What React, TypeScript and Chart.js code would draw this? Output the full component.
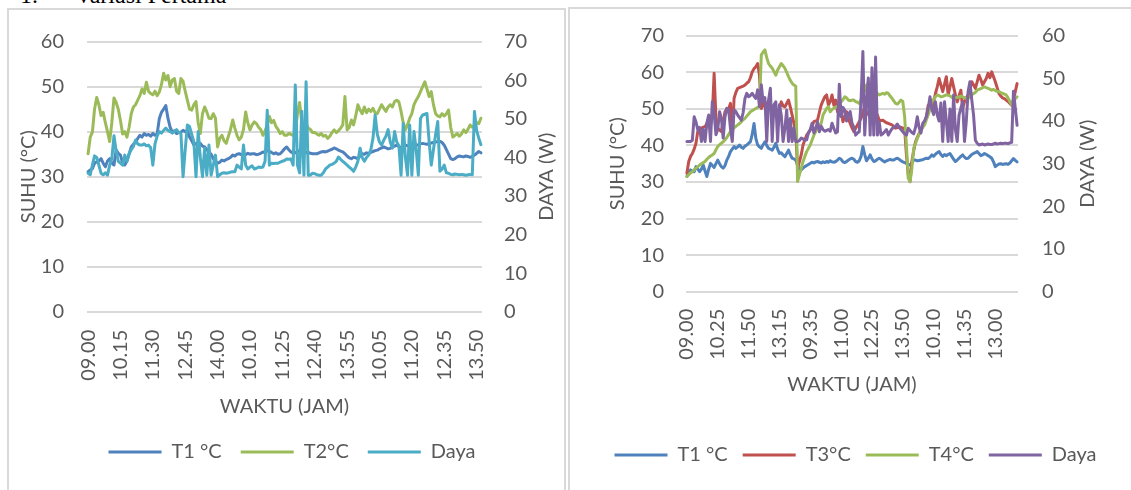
import React, { useEffect, useRef } from 'react';
import { Chart, registerables } from 'chart.js';

Chart.register(...registerables);

const FONT = 'Lato, "Noto Sans", sans-serif';
const TEXT = '#595959';
const GRID = '#d9d9d9';
const FS = 20;

// one measuring day, every 5 minutes
const DAY_TIMES = [
  '09.00', '09.05', '09.10', '09.15', '09.20', '09.25', '09.30', '09.35', '09.40', '09.45', '09.50', '09.55',
  '10.00', '10.05', '10.10', '10.15', '10.20', '10.25', '10.30', '10.35', '10.40', '10.45', '10.50', '10.55',
  '11.00', '11.05', '11.10', '11.15', '11.20', '11.25', '11.30', '11.35', '11.40', '11.45', '11.50', '11.55',
  '12.00', '12.05', '12.10', '12.15', '12.20', '12.25', '12.30', '12.35', '12.40', '12.45', '12.50', '12.55',
  '13.00', '13.05', '13.10', '13.15', '13.20', '13.25', '13.30', '13.35', '13.40', '13.45', '13.50', '13.55',
  '14.00',
];
const CATEGORIES = [...DAY_TIMES, ...DAY_TIMES, ...DAY_TIMES];

const LEFT_TICK_LABELS = ['09.00', '10.15', '11.30', '12.45', '14.00', '10.10', '11.25', '12.40', '13.55', '10.05', '11.20', '12.35', '13.50'];
const LEFT_TICK_STEP = 15;
const RIGHT_TICK_LABELS = ['09.00', '10.25', '11.50', '13.15', '09.35', '11.00', '12.25', '13.50', '10.10', '11.35', '13.00'];
const RIGHT_TICK_STEP = 17;

// ---------- left chart (Variasi Pertama) ----------
const L_T1 = [
  31.1, 31.5, 31.8, 33, 33.3, 33.5, 34, 33, 32.2, 33.5,
  34, 33, 32.6, 35.9, 35.2, 34.8, 33, 32.6, 33.5, 35,
  36.6, 37.2, 37.7, 38.5, 39.2, 38.8, 39.6, 39.2, 39.4, 39,
  39.6, 39.2, 39.5, 42.9, 44.3, 45, 45.8, 43, 41, 39.9,
  40.2, 39.6, 39.8, 39.9, 40.3, 40, 40.3, 38.8, 38, 37,
  37.4, 37.2, 37.4, 36.8, 36.6, 36, 35.5, 35, 34, 33.5,
  33, 33.2, 33.7, 33.5, 33.8, 34, 34.3, 34.8, 34.6, 35,
  35.1, 34.9, 35, 34.9, 35.2, 35, 35.1, 35.1, 34.9, 35,
  35.2, 35.5, 35.3, 35.9, 35.6, 35.4, 35.1, 35.3, 35, 35.1,
  35.6, 36.2, 36.6, 36, 35.5, 35.2, 35.3, 35.6, 35.8, 35.5,
  35.3, 35.4, 35.4, 35.2, 35.1, 35.1, 35.1, 35.3, 35.5, 35.6,
  35.5, 35.7, 35.9, 36.1, 36.4, 36.2, 35.9, 35.7, 35.5, 35.1,
  34.6, 34.2, 34, 34.3, 34.2, 34, 34.6, 35.1, 35, 35.3,
  35.2, 35.4, 35.6, 35.8, 35.9, 36.2, 36.4, 36.6, 36.4, 36.2,
  36.3, 36.6, 36.8, 37, 36.7, 36.4, 36.8, 37, 36.9, 36.7,
  36.6, 36.8, 37, 37.1, 37.3, 37.4, 37.3, 37.2, 37.4, 37.5,
  37.6, 37.7, 37.8, 37.9, 37.6, 37, 36, 35, 34, 33.8,
  34, 34.4, 34.6, 34.5, 34.4, 34.6, 34.5, 34.3, 34.5, 34.8,
  35.2, 35.6, 35.3,
];
const L_T2 = [
  35.1, 38.8, 39.9, 45, 47.6, 46, 43.6, 44.3, 42, 40,
  37.8, 42, 47.5, 46.5, 45, 42.5, 39.5, 40, 38.8, 41,
  44, 45.5, 46, 47, 48, 49.5, 48.5, 51, 49, 48.5,
  48.2, 49, 48, 48.8, 50.5, 53, 51.5, 52.5, 50, 51.5,
  51.8, 49, 48.5, 51.8, 51.2, 49, 47, 45, 44.8, 46,
  46.7, 42, 39.6, 44, 45.5, 44.4, 43, 42.9, 44, 43,
  36.6, 38.5, 39.2, 38, 37.4, 39, 40.5, 42.6, 40.8, 39.2,
  38.2, 38.8, 40.5, 44.4, 42, 40.4, 41.5, 42.2, 41.8, 41,
  40.5, 39.2, 40.2, 41.5, 43.4, 42, 42.5, 41.2, 40.5, 39.6,
  40, 39.2, 39.2, 39.6, 39.4, 39.2, 39.5, 44, 46.5, 42,
  41, 41.8, 40.8, 40.5, 39.8, 39.8, 39.5, 39.2, 39.6, 39,
  39.2, 38.5, 39, 39.8, 40.4, 39.8, 40.2, 40.8, 41.5, 47.8,
  40.4, 41, 42.6, 41.5, 43.5, 46, 44.8, 44, 45.5, 44.2,
  45, 44.5, 45.2, 44.2, 44, 45, 46, 45.2, 44.5, 45.5,
  46, 45.5, 46.7, 47, 46.6, 44.5, 42, 40.4, 41.5, 43,
  44, 46, 47, 47.8, 48.9, 50, 51.1, 49.5, 47.8, 48.9,
  46, 44, 43.5, 43.3, 44, 43.5, 44, 44.8, 41, 38.8,
  39.2, 39.6, 39, 39.5, 40.4, 39.8, 40.5, 41.5, 41, 41.5,
  42, 41.8, 43,
];
const L_DAYA = [
  35.9, 35.5, 38, 40.4, 40, 38, 35.9, 35.5, 36, 35.4,
  38, 39.7, 45.6, 41.7, 39, 38.5, 38, 40.6, 39, 41,
  42, 42.8, 44.5, 43.5, 43.2, 43.2, 43.5, 43, 43.2, 42.5,
  38, 43.5, 45.5, 46.7, 46.3, 47, 47.6, 47, 46.7, 46.3,
  46.8, 47.2, 46.5, 46.3, 35, 42, 48.4, 48, 46, 44.1,
  35, 46.7, 40, 35, 42.4, 35.4, 43.2, 35.4, 38, 40.6,
  35, 35.5, 35.9, 36, 35.9, 36, 36.2, 36.3, 36.3, 38,
  37.5, 37, 43.2, 38, 37, 37.5, 37.8, 37, 37.2, 37.5,
  37.4, 37.5, 39, 52.2, 38, 38.5, 38.4, 38.5, 38.5, 38.8,
  39, 39.2, 39.6, 39.5, 39.6, 38, 58.8, 38, 36, 52,
  35.4, 59.6, 35.4, 35.4, 35.9, 35.8, 35.5, 35.4, 35.4, 36,
  37, 37.5, 38, 38.2, 38.5, 39, 40.1, 39.5, 39, 38.5,
  38, 37.5, 37, 36.4, 37.5, 39, 42.4, 40, 39, 40,
  40.6, 42, 45, 51, 46, 44, 43.2, 44.5, 45.5, 47.2,
  44, 42.4, 46.7, 44, 43, 35.4, 48.8, 40, 35.4, 48.4,
  35.4, 46.7, 42, 35.4, 50.1, 51, 51.2, 51.4, 44.1, 38,
  42, 45.9, 49.3, 36.4, 37, 38, 36, 35.9, 35.6, 35.5,
  35.7, 35.6, 35.5, 35.6, 35.5, 35.4, 35.5, 35.6, 35.5, 51.9,
  47, 45, 43.3,
];

// ---------- right chart ----------
const R_T1 = [
  31.5, 32.5, 33.3, 33, 32.8, 34.2, 33.5, 32.8, 33.5, 34.6,
  33, 31.5, 33.5, 35.1, 34.5, 34, 35, 36, 35, 34.2,
  33.8, 34.5, 36, 37, 38.3, 39, 39.7, 39.2, 39.6, 40.1,
  39.5, 39.2, 39.8, 40.1, 40.6, 41, 43, 46, 41.9, 40.1,
  39.6, 39.2, 40.2, 41, 40, 39.2, 39, 38.7, 39.5, 40.6,
  39, 37.8, 38, 37.4, 36.9, 37.8, 38.7, 37.5, 36.5, 36.3,
  36, 34.6, 33, 33.3, 33.8, 34.2, 34.5, 34.8, 35.1, 35.4,
  35.2, 35.5, 35.6, 35.4, 35.2, 35.5, 35.3, 35.6, 35.4, 35.8,
  35.5, 35.4, 35.6, 36, 36.5, 36.2, 35.5, 35.3, 35.6, 36,
  36.3, 36.5, 36.2, 35.6, 35.4, 35.8, 37, 39.7, 37.5, 35.8,
  36.5, 37.4, 36.3, 35.6, 35.8, 36.2, 36.5, 36.2, 35.8, 35.5,
  35.8, 36, 36.2, 36, 36, 36.3, 36.5, 36.2, 35.8, 35.5,
  35.3, 35.1, 34.8, 34.6, 35.2, 36, 36, 35.8, 35.9, 36,
  36.1, 36.3, 36.5, 36.4, 36.8, 37.4, 37, 37.6, 38, 38.3,
  37.5, 37, 37.5, 37.2, 37.5, 37.8, 37, 36.2, 35.6, 36,
  36.5, 37, 37.4, 36.8, 36.4, 36.5, 37, 37.5, 37.8, 38,
  38.3, 37.8, 37.2, 37.4, 37.8, 37.5, 37.2, 36.9, 36.5, 35.5,
  34.2, 34.6, 34.9, 35, 34.8, 34.9, 35, 34.8, 35.2, 35.8,
  36.4, 35.9, 35.5,
];
const R_T3 = [
  32.4, 35.6, 37, 37.8, 39, 40.6, 43.8, 44.3, 44.7, 45,
  45.1, 46, 47.4, 45.6, 48, 59.7, 47.4, 44.7, 44.2, 43.8,
  46.5, 49.2, 50, 50, 51.5, 41.9, 52.9, 54.5, 55.6, 55.8,
  56, 56.2, 56.5, 57, 57.4, 58.5, 60.1, 61, 61.5, 62.4,
  59.2, 50.1, 51, 51.9, 51.2, 50.6, 50, 49.2, 50.6, 49.8,
  48.8, 50, 51.9, 50.8, 50.5, 51.5, 52.4, 50.5, 48.3, 46,
  43.8, 33.7, 35.5, 37.4, 40.1, 41.5, 42.8, 43.5, 44.2, 45.3,
  46.5, 46.7, 46.9, 49, 51, 52.2, 53.3, 53.8, 51, 52,
  53.8, 51, 52.4, 49.2, 50, 49.6, 46.5, 47.8, 49.2, 47.5,
  46, 44.8, 43.8, 44.7, 45.6, 46.5, 47.4, 49, 50.6, 49.2,
  48.5, 47.9, 47.2, 46.5, 47.4, 48.3, 46.9, 46.8, 46.9, 46.5,
  46.2, 46, 45.8, 45.6, 45.2, 44.7, 44.9, 45.1, 44.9, 44.7,
  44.7, 37.4, 32, 30.1, 35.6, 38.5, 41, 42.2, 43.3, 44.2,
  45.1, 46.5, 47.9, 51, 50.5, 50.1, 52, 54.2, 56, 58.3,
  56.5, 54.7, 56.8, 58.8, 53.8, 56, 58.3, 56, 53.8, 51.9,
  53.5, 55.1, 50.1, 52, 53, 53.8, 55.5, 57.4, 56.5, 55.6,
  57.4, 59.2, 58, 56.5, 57.4, 58.3, 59.7, 58.5, 60.1, 58.8,
  57.4, 55.8, 54.2, 53.5, 53, 52.8, 52.4, 52, 51.5, 51,
  52.5, 54.7, 56.9,
];
const R_T4 = [
  31.5, 32, 32.5, 32.8, 33.3, 33.8, 34.2, 34.6, 35, 35.3,
  35.6, 36.2, 36.7, 37.1, 37.4, 37.8, 38.8, 39.7, 40.2, 40.6,
  41, 41.5, 42.2, 43, 43.8, 44.3, 44.8, 45.2, 45.6, 46,
  46.5, 47, 47.4, 48, 48.6, 49.2, 49.5, 49.8, 50.1, 50.4,
  50.6, 64.7, 65.5, 66.1, 64, 62.4, 61.7, 61.1, 60.2, 59.2,
  60.6, 61.5, 62.4, 61.8, 61.1, 60, 58.8, 57.8, 57, 56.5,
  56.2, 30.1, 32, 33.7, 35.6, 37, 38.3, 39.2, 40.1, 41.5,
  42.8, 43.8, 44.7, 45.4, 46, 48.3, 49.2, 50.1, 50.6, 49.2,
  49.8, 50.2, 50.5, 50.6, 51.3, 51.9, 52.5, 53.3, 53, 52.4,
  52.2, 52.4, 52.4, 52, 51.8, 51.5, 52.5, 53.8, 55, 56.5,
  57, 56.5, 56.5, 55.5, 54.7, 54.2, 53.8, 54, 54.2, 54,
  54.4, 54.2, 53.5, 52.9, 52.2, 51.5, 51.3, 51.8, 52.4, 52,
  47.9, 40, 31, 30.1, 33.7, 39.2, 40.5, 41.9, 43, 44.2,
  45, 45.6, 47, 48.3, 50, 51.9, 52.6, 53.3, 53.8, 53.6,
  53.3, 53.4, 53.6, 53.8, 53.8, 53.5, 53.2, 52.9, 53, 53.2,
  53.2, 53.5, 53.3, 53, 52.9, 52.9, 53.3, 53.8, 54.2, 54.5,
  55.1, 55.3, 55.5, 55.8, 56, 55.8, 55.6, 55.4, 55.1, 55.3,
  55, 54.8, 54.7, 54.4, 54.2, 54, 53.8, 53, 52, 51,
  52, 52.8, 53.3,
];
const R_DAYA = [
  35.2, 35.2, 35.2, 35.5, 41, 39.8, 37.9, 38.5, 35.2, 38,
  35.2, 39.5, 41.4, 35.2, 44.5, 41.8, 36.8, 38, 42.2, 40.6,
  36, 41, 43, 42.6, 38.3, 35.2, 42.6, 42.2, 41.4, 40.8,
  40.2, 42, 45.3, 46.5, 45.7, 46, 46.5, 45.8, 45.3, 47.3,
  43.4, 48.5, 44.5, 45.5, 35.2, 44.9, 47.7, 35.2, 43.8, 44.5,
  35.2, 43.8, 41.4, 35.2, 38.3, 42.6, 35.2, 40.6, 35.2, 38.3,
  35.2, 35.2, 35.4, 36, 35.8, 35.5, 35.6, 37.2, 38, 39.5,
  37.2, 38.3, 39.8, 37.5, 38.8, 38, 37.6, 37.8, 38, 37.6,
  39.5, 38.3, 37.2, 37.5, 48.6, 41, 43.2, 42.5, 40, 41.5,
  42.2, 39.5, 38.5, 36.7, 37.2, 37.5, 45, 56.3, 36.7, 44.5,
  50.1, 36.7, 52.5, 36.7, 55, 36.7, 39.8, 36.7, 37, 37.5,
  38, 36.7, 37.5, 38.2, 38.5, 38.8, 39.3, 38.5, 38, 37.5,
  37, 36.7, 38.3, 37.8, 37.3, 37, 38.5, 41, 38.5, 37.2,
  39.5, 40, 41, 43, 45.7, 42.8, 41.5, 44.5, 41.4, 40,
  44.2, 35.2, 44.5, 40, 35.2, 42.8, 35.2, 46.1, 38, 35.2,
  41.4, 43, 44.5, 35.2, 40, 46.9, 49.2, 45, 41.4, 35.5,
  34.8, 34.4, 34.5, 34.6, 34.4, 34.5, 34.6, 34.5, 34.5, 34.6,
  34.8, 34.6, 34.7, 34.8, 34.7, 34.8, 34.8, 34.7, 34.9, 35,
  47, 43, 39,
];

const C_BLUE = '#4F81BD';
const C_RED = '#C0504D';
const C_GREEN = '#9BBB59';
const C_AQUA = '#4BACC6';
const C_PURPLE = '#8064A2';

// draws the secondary-axis title reading bottom-to-top, as in the source
const rightTitlePlugin = {
  id: 'rightTitle',
  afterLayout(chart: any, _args: any, opts: any) {
    if (chart.legend && opts.legendShift) {
      chart.legend.left += opts.legendShift;
      chart.legend.right += opts.legendShift;
    }
  },
  afterDraw(chart: any, _args: any, opts: any) {
    const { ctx, chartArea } = chart;
    ctx.save();
    ctx.translate(opts.x, (chartArea.top + chartArea.bottom) / 2);
    ctx.rotate(-Math.PI / 2);
    ctx.font = `${FS}px ${FONT}`;
    ctx.fillStyle = TEXT;
    ctx.textAlign = 'center';
    ctx.textBaseline = 'middle';
    ctx.fillText(opts.text, 0, 0);
    ctx.restore();
  },
};

function ds(label: string, data: number[], color: string, axis: string, order: number) {
  return {
    label,
    data,
    borderColor: color,
    backgroundColor: color,
    yAxisID: axis,
    order,
    borderWidth: 3,
    pointRadius: 0,
    tension: 0,
    borderJoinStyle: 'round',
    borderCapStyle: 'round',
    fill: false,
  };
}

function fixWidth(w: number) {
  return (s: any) => {
    s.width = w;
    s.paddingTop = 0;
    s.paddingBottom = 0;
  };
}

function buildConfig(p: any) {
  const font = { family: FONT, size: FS };
  return {
    type: 'line',
    data: { labels: CATEGORIES, datasets: p.datasets },
    options: {
      responsive: false,
      animation: false,
      devicePixelRatio: 1,
      layout: { padding: { top: p.padTop, bottom: p.padBottom, left: 0, right: 0 } },
      scales: {
        x: {
          type: 'category',
          offset: true,
          grid: { display: false, drawTicks: false },
          border: { display: false },
          ticks: {
            autoSkip: false,
            minRotation: 90,
            maxRotation: 90,
            padding: p.xTickPad,
            color: TEXT,
            font,
            callback: (_v: any, i: number) => (i % p.tickStep === 0 ? p.tickLabels[i / p.tickStep] ?? '' : ''),
          },
          title: { display: true, text: 'WAKTU (JAM)', color: TEXT, font, padding: { top: 0, bottom: p.xTitlePad } },
          afterFit: (s: any) => {
            s.height = p.xHeight;
            s.paddingLeft = 0;
            s.paddingRight = 0;
          },
        },
        y: {
          position: 'left',
          min: 0,
          max: p.yMax,
          ticks: { stepSize: 10, padding: p.yTickPad, color: TEXT, font },
          grid: { color: GRID, lineWidth: 2, drawTicks: false },
          border: { display: false },
          title: { display: true, text: 'SUHU (°C)', color: TEXT, font, padding: { top: p.yTitlePad, bottom: 0 } },
          afterFit: fixWidth(p.yWidth),
        },
        y1: {
          position: 'right',
          min: 0,
          max: p.y1Max,
          ticks: { stepSize: 10, padding: p.y1TickPad, color: TEXT, font },
          grid: { display: false, drawOnChartArea: false, drawTicks: false },
          border: { display: false },
          afterFit: fixWidth(p.y1Width),
        },
      },
      plugins: {
        legend: {
          position: 'bottom',
          labels: {
            usePointStyle: true,
            pointStyle: 'line',
            pointStyleWidth: 53,
            padding: p.legendPad,
            color: TEXT,
            font,
            sort: (a: any, b: any) => a.datasetIndex - b.datasetIndex,
          },
        },
        tooltip: { enabled: false },
        rightTitle: { text: 'DAYA (W)', x: p.rightTitleX, legendShift: p.legendShift },
      },
    },
    plugins: [rightTitlePlugin],
  };
}

export default function App() {
  const leftRef = useRef<HTMLCanvasElement>(null);
  const rightRef = useRef<HTMLCanvasElement>(null);

  useEffect(() => {
    const left = new Chart(leftRef.current as HTMLCanvasElement, buildConfig({
      datasets: [
        ds('T1 °C', L_T1, C_BLUE, 'y', 3),
        ds('T2°C', L_T2, C_GREEN, 'y', 2),
        ds('Daya', L_DAYA, C_AQUA, 'y1', 1),
      ],
      tickLabels: LEFT_TICK_LABELS,
      tickStep: LEFT_TICK_STEP,
      yMax: 60,
      y1Max: 70,
      yWidth: 77,
      y1Width: 83,
      padTop: 31.7,
      padBottom: 18,
      xHeight: 111.3,
      xTickPad: 18,
      xTitlePad: 4,
      yTickPad: 23,
      y1TickPad: 22,
      yTitlePad: 7,
      legendPad: 19,
      legendShift: 4.5,
      rightTitleX: 537,
    }) as any);

    const right = new Chart(rightRef.current as HTMLCanvasElement, buildConfig({
      datasets: [
        ds('T1 °C', R_T1, C_BLUE, 'y', 4),
        ds('T3°C', R_T3, C_RED, 'y', 3),
        ds('T4°C', R_T4, C_GREEN, 'y', 2),
        ds('Daya', R_DAYA, C_PURPLE, 'y1', 1),
      ],
      tickLabels: RIGHT_TICK_LABELS,
      tickStep: RIGHT_TICK_STEP,
      yMax: 70,
      y1Max: 60,
      yWidth: 116,
      y1Width: 113,
      padTop: 25.7,
      padBottom: 15,
      xHeight: 138.3,
      xTickPad: 17,
      xTitlePad: 33,
      yTickPad: 22,
      y1TickPad: 24,
      yTitlePad: 36,
      legendPad: 15,
      legendShift: 5,
      rightTitleX: 518,
    }) as any);

    return () => {
      left.destroy();
      right.destroy();
    };
  }, []);

  return (
    <div style={{ position: 'absolute', left: 0, top: 0, width: 1131, height: 490, overflow: 'hidden', background: '#fff' }}>
      <div style={{ position: 'absolute', left: 20, top: -17, font: '24px "Liberation Serif", "Times New Roman", serif', lineHeight: '24px', color: '#000', whiteSpace: 'nowrap' }}>1.</div>
      <div style={{ position: 'absolute', left: 75, top: -17, font: '24px "Liberation Serif", "Times New Roman", serif', lineHeight: '24px', color: '#000', whiteSpace: 'nowrap' }}>Variasi Pertama</div>
      <div style={{ position: 'absolute', left: 7, top: 8, width: 559, height: 500, border: '2px solid #d9d9d9', boxSizing: 'border-box' }} />
      <div style={{ position: 'absolute', left: 568, top: 7, width: 600, height: 500, border: '2px solid #d9d9d9', boxSizing: 'border-box' }} />
      <canvas ref={leftRef} width={555} height={480} style={{ position: 'absolute', left: 10, top: 10, width: 555, height: 480 }} />
      <canvas ref={rightRef} width={561} height={480} style={{ position: 'absolute', left: 570, top: 10, width: 561, height: 480 }} />
    </div>
  );
}
